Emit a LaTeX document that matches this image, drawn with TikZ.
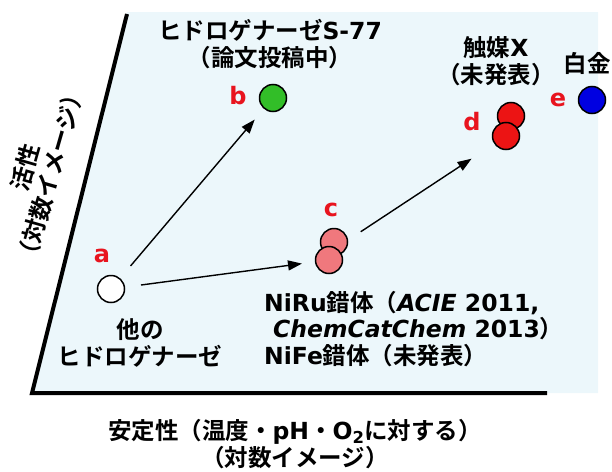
\documentclass[tikz,border=0pt]{standalone}
\usepackage{fontspec}
\setmainfont{DejaVu Sans}
\newfontfamily\jp{Noto Sans CJK JP}[BoldFont={Noto Sans CJK JP Bold}]
\usetikzlibrary{arrows.meta,calc}
\definecolor{bgblue}{RGB}{236,247,251}
\definecolor{lblred}{RGB}{232,20,30}
\definecolor{dotgreen}{RGB}{50,190,40}
\definecolor{dotpink}{RGB}{240,120,125}
\definecolor{dotred}{RGB}{236,20,20}
\definecolor{dotblue}{RGB}{0,0,225}
\tikzset{
  dot/.style={circle,draw=black,line width=1.5pt,inner sep=0pt,minimum size=27pt},
  lbl/.style={text=lblred,font=\fontsize{24}{27}\selectfont\bfseries,inner sep=0pt},
  txt/.style={font=\fontsize{23.5}{26.5}\selectfont\bfseries,inner sep=0pt,align=center},
  arr/.style={line width=1.4pt,-{Triangle[length=14pt,width=10pt]}},
  axisline/.style={line width=4pt}
}
\begin{document}
\begin{tikzpicture}[x=1pt,y=-1pt]
\useasboundingbox (0,0) rectangle (612,471);
\fill[bgblue] (127,12) -- (598,12) -- (598,393) -- (32,393) -- cycle;
\draw[axisline] (127,14) -- (32,393) -- (547,393);
% dots
\node[dot,fill=white] (a) at (111,289) {};
\node[dot,fill=dotgreen] (b) at (273,98) {};
\node[dot,fill=dotpink] (c1) at (334,242) {};
\node[dot,fill=dotpink] (c2) at (329,260) {};
\node[dot,fill=dotred] (d1) at (511,116) {};
\node[dot,fill=dotred] (d2) at (506,136) {};
\node[dot,fill=dotblue] (e) at (592,100) {};
\coordinate (cm) at ($(c1)!0.5!(c2)$);
% labels
\node[lbl] (la) at (102,256) {a};
\node[lbl] (lb) at (238,96) {b};
\node[lbl] (lc) at (331,210) {c};
\node[lbl] (ld) at (472,122) {d};
\node[lbl] (le) at (558,100) {e};
% arrows
\draw[arr,shorten <=16pt,shorten >=14pt] (a) -- (b);
\draw[arr,shorten <=16pt,shorten >=13pt] (a) -- (c2);
\draw[arr,shorten <=35pt,shorten >=27pt] (cm) -- (d2);
% texts
\node[txt] (tb) at (270,44) {{\jp ヒドロゲナーゼ}S-77\\{\jp （論文投稿中）}};
\node[txt] (td) at (496,61) {{\jp 触媒}X\\{\jp （未発表）}};
\node[txt] (te) at (587,63) {\jp 白金};
\node[txt] (ta) at (140,343) {\jp 他の\\\jp ヒドロゲナーゼ};
\node[txt,align=left,anchor=north west] (tc) at (264,291) {NiRu{\jp 錯体（}\textit{ACIE} 2011,\\\hspace{9pt}\textit{ChemCatChem} 2013{\jp ）}\\NiFe{\jp 錯体（未発表）}};
\node[txt] (tx) at (295,444) {{\jp 安定性（温度・}pH{\jp ・}O\textsubscript{2}{\jp に対する）}\\{\jp （対数イメージ）}};
\node[txt,rotate=74] (ty) at (38,171) {\jp 活性\\\jp （対数イメージ）};
\end{tikzpicture}
\end{document}
